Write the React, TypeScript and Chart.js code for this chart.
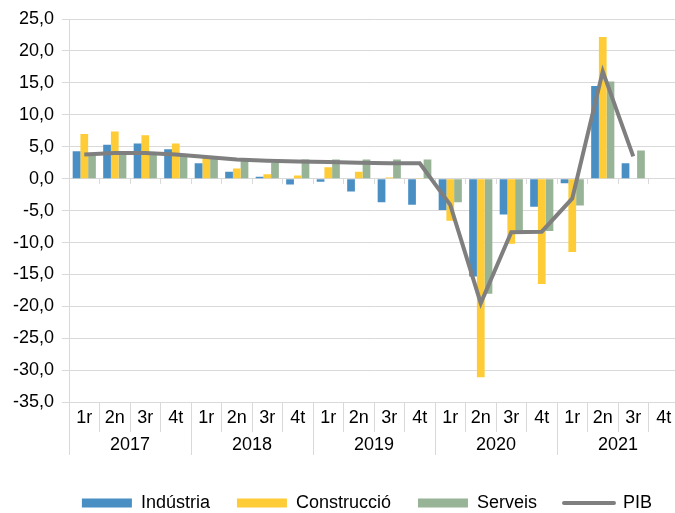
import React, { useEffect, useRef } from 'react';
import { Chart, registerables } from 'chart.js';

Chart.register(...registerables);

const quarters = [
  '1r', '2n', '3r', '4t',
  '1r', '2n', '3r', '4t',
  '1r', '2n', '3r', '4t',
  '1r', '2n', '3r', '4t',
  '1r', '2n', '3r', '4t',
];
const years = ['2017', '2018', '2019', '2020', '2021'];

const industria = [4.3, 5.3, 5.5, 4.6, 2.4, 1.1, 0.3, -0.9, -0.5, -2.0, -3.7, -4.1, -4.9, -15.3, -5.6, -4.4, -0.7, 14.5, 2.4, null];
const construccio = [7.0, 7.4, 6.8, 5.5, 3.5, 1.6, 0.7, 0.5, 1.8, 1.1, 0.2, 0.1, -6.6, -31.1, -10.2, -16.5, -11.5, 22.2, null, null];
const serveis = [3.6, 3.8, 3.8, 3.6, 3.3, 3.2, 2.5, 3.0, 3.0, 3.0, 3.0, 3.0, -3.7, -18.0, -8.5, -8.2, -4.2, 15.2, 4.4, null];
const pib = [3.8, 4.0, 4.0, 3.8, 3.4, 3.0, 2.8, 2.7, 2.6, 2.5, 2.4, 2.4, -4.1, -19.5, -8.4, -8.3, -3.1, 16.8, 3.5, null];

const seriesNames = ['Indústria', 'Construcció', 'Serveis', 'PIB'];
const yMin = -35;
const yMax = 25;
const yStep = 5;

const COLORS = {
  ind: '#4a8fc4',
  cons: '#fecc36',
  serv: '#97b496',
  pib: '#7f7f7f',
  grid: '#d9d9d9',
  text: '#000000',
};

const FONT = "'Liberation Sans', Arial, sans-serif";

export default function App() {
  const ref = useRef<HTMLCanvasElement | null>(null);

  useEffect(() => {
    if (!ref.current) return;
    const barOpts = { type: 'bar', order: 1, barPercentage: 1, categoryPercentage: 0.76 };
    const chart = new Chart(ref.current, {
      type: 'bar',
      data: {
        labels: quarters,
        datasets: [
          { ...barOpts, label: seriesNames[0], data: industria as any, backgroundColor: COLORS.ind },
          { ...barOpts, label: seriesNames[1], data: construccio as any, backgroundColor: COLORS.cons },
          { ...barOpts, label: seriesNames[2], data: serveis as any, backgroundColor: COLORS.serv },
          {
            type: 'line', label: seriesNames[3], data: pib as any, borderColor: COLORS.pib, backgroundColor: COLORS.pib,
            borderWidth: 4, pointRadius: 0, tension: 0, order: 0, spanGaps: false,
          },
        ] as any,
      },
      options: {
        animation: false,
        responsive: false,
        devicePixelRatio: 1,
        layout: { padding: { left: 5, right: 11, top: 19, bottom: 0 } },
        plugins: {
          tooltip: { enabled: false },
          legend: {
            position: 'bottom',
            align: 'end',
            title: { display: true, text: '', font: { size: 9, family: FONT }, padding: 0 },
            labels: {
              font: { size: 18, family: FONT },
              color: COLORS.text,
              boxWidth: 50,
              boxHeight: 9,
              usePointStyle: true,
              pointStyleWidth: 50,
              padding: 27,
              sort: (a: any, b: any) => a.datasetIndex - b.datasetIndex,
              generateLabels: (c: any) => {
                const items = Chart.defaults.plugins.legend.labels.generateLabels(c);
                return items.map((it: any) => {
                  if (it.datasetIndex === 3) {
                    return { ...it, pointStyle: 'line', strokeStyle: COLORS.pib, lineWidth: 4, lineCap: 'round' };
                  }
                  return { ...it, pointStyle: 'rect', lineWidth: 0 };
                });
              },
            },
          },
        },
        scales: {
          y: {
            min: yMin,
            max: yMax,
            ticks: {
              stepSize: yStep,
              font: { size: 18, family: FONT },
              color: COLORS.text,
              padding: 8,
              callback: (v: any) => Number(v).toFixed(1).replace('.', ','),
            },
            grid: { color: COLORS.grid, tickLength: 7, lineWidth: 1 },
            border: { display: true, color: COLORS.grid },
          },
          x: {
            type: 'category',
            axis: 'x',
            position: 'bottom',
            weight: 0,
            offset: true,
            grid: { display: false, drawTicks: false, tickLength: 0 },
            border: { display: false },
            ticks: { font: { size: 18, family: FONT }, color: COLORS.text, padding: 5.2, maxRotation: 0, autoSkip: false },
          },
          x2: {
            type: 'category',
            axis: 'x',
            position: 'bottom',
            weight: 1,
            labels: years,
            offset: true,
            grid: { display: false, drawTicks: false, tickLength: 0 },
            border: { display: false },
            ticks: { font: { size: 18, family: FONT }, color: COLORS.text, padding: 0.2, maxRotation: 0, autoSkip: false },
          },
          sepQ: {
            type: 'category',
            axis: 'x',
            position: { y: yMin } as any,
            offset: true,
            grid: { offset: true, drawOnChartArea: false, tickLength: 30, color: COLORS.grid },
            border: { display: false },
            ticks: { display: false },
          },
          sepY: {
            type: 'category',
            axis: 'x',
            position: { y: yMin } as any,
            labels: years,
            offset: true,
            grid: { offset: true, drawOnChartArea: false, tickLength: 53, color: COLORS.grid },
            border: { display: false },
            ticks: { display: false },
          },
          xz: {
            type: 'category',
            axis: 'x',
            position: { y: 0 } as any,
            offset: true,
            grid: { offset: true, drawOnChartArea: false, tickLength: 5, color: COLORS.grid },
            border: { display: true, color: COLORS.grid },
            ticks: { display: false },
          },
        },
      } as any,
    });
    return () => chart.destroy();
  }, []);

  return (
    <div style={{ position: 'fixed', left: 0, top: 0, width: 675, height: 513, overflow: 'hidden', background: '#fff' }}>
      <canvas ref={ref} width={690} height={522} style={{ width: 690, height: 522, display: 'block' }} />
    </div>
  );
}
